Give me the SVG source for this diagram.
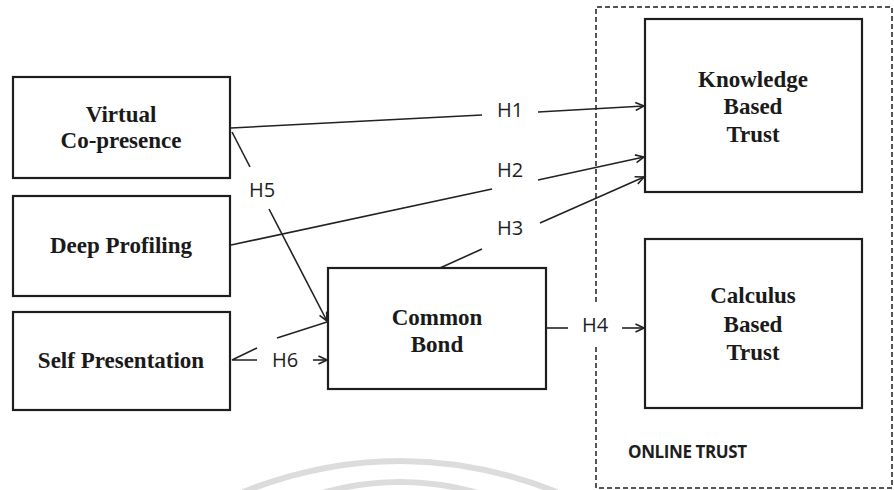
<svg xmlns="http://www.w3.org/2000/svg" width="894" height="490" viewBox="0 0 894 490">
<style>
.box{fill:#fff;stroke:#1e1e1e;stroke-width:2.2}
.t{font-family:"Liberation Serif","Times New Roman",serif;font-weight:bold;font-size:23px;fill:#1a1a1a;text-anchor:middle}
.h{font-family:"Open Sans","Liberation Sans",sans-serif;font-size:20px;fill:#1e1e1e}
.c{fill:none;stroke:#222;stroke-width:1.6}
.wm{fill:none;stroke:#dcdcdc;stroke-width:6}
</style>
<defs>
<marker id="a" viewBox="0 0 10 10" refX="9.5" refY="5" markerWidth="10" markerHeight="10" markerUnits="userSpaceOnUse" orient="auto">
<path d="M1,1 L9.5,5 L1,9" fill="none" stroke="#222" stroke-width="1.6"/>
</marker>
</defs>
<rect width="894" height="490" fill="#fff"/>
<g id="watermark">
<path class="wm" d="M243,492 Q400,430 557,492"/>
<path class="wm" d="M318,494 Q400,470 482,494"/>
</g>
<g id="online-trust">
<path d="M596,302 L596,7 L892,7 L892,488 L596,488 L596,345" fill="none" stroke="#1e1e1e" stroke-width="1.5" stroke-dasharray="5 3"/>
<text x="628" y="458" font-family="'Open Sans','Liberation Sans',sans-serif" font-weight="bold" font-size="17" fill="#1e1e1e" letter-spacing="-0.4">ONLINE TRUST</text>
</g>
<g id="virtual-co-presence">
<rect class="box" x="13" y="77" width="217" height="101"/>
<text class="t" x="121" y="122">Virtual</text>
<text class="t" x="121" y="148">Co-presence</text>
</g>
<g id="deep-profiling">
<rect class="box" x="13" y="196" width="217" height="100"/>
<text class="t" x="121" y="253">Deep Profiling</text>
</g>
<g id="self-presentation">
<rect class="box" x="13" y="312" width="217" height="98"/>
<text class="t" x="121" y="368">Self Presentation</text>
</g>
<g id="common-bond">
<rect class="box" x="328" y="268" width="218" height="121"/>
<text class="t" x="437" y="325">Common</text>
<text class="t" x="437" y="352">Bond</text>
</g>
<g id="knowledge-based-trust">
<rect class="box" x="645" y="19" width="217" height="173"/>
<text class="t" x="753" y="87">Knowledge</text>
<text class="t" x="753" y="114">Based</text>
<text class="t" x="753" y="142">Trust</text>
</g>
<g id="calculus-based-trust">
<rect class="box" x="645" y="239" width="217" height="169"/>
<text class="t" x="753" y="303">Calculus</text>
<text class="t" x="753" y="332">Based</text>
<text class="t" x="753" y="360">Trust</text>
</g>
<g id="connectors">
<line class="c" x1="231" y1="128" x2="482" y2="115"/>
<line class="c" x1="538" y1="112" x2="644" y2="106" marker-end="url(#a)"/>
<line class="c" x1="231" y1="245" x2="492" y2="189"/>
<line class="c" x1="538" y1="180" x2="644" y2="157" marker-end="url(#a)"/>
<line class="c" x1="440" y1="268" x2="482" y2="249"/>
<line class="c" x1="540" y1="223" x2="644" y2="177" marker-end="url(#a)"/>
<line class="c" x1="546" y1="328" x2="568" y2="328"/>
<line class="c" x1="622" y1="328" x2="644" y2="328" marker-end="url(#a)"/>
<line class="c" x1="232" y1="132" x2="250" y2="167"/>
<line class="c" x1="269" y1="209" x2="327" y2="321" marker-end="url(#a)"/>
<line class="c" x1="327" y1="322" x2="277" y2="338"/>
<path class="c" d="M257,348 L232,360 L257,360"/>
<line class="c" x1="313" y1="360" x2="327" y2="360" marker-end="url(#a)"/>
<text class="h" x="497" y="117">H1</text>
<text class="h" x="497" y="177">H2</text>
<text class="h" x="497" y="235">H3</text>
<text class="h" x="582" y="332">H4</text>
<text class="h" x="249" y="197">H5</text>
<text class="h" x="272" y="367">H6</text>
</g>
</svg>
